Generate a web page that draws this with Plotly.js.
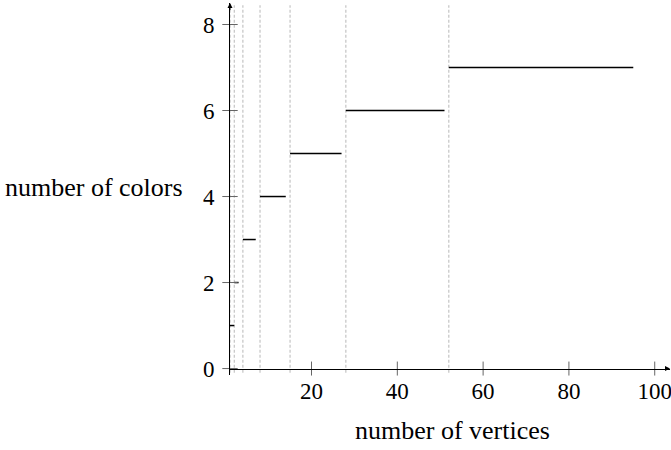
<!DOCTYPE html>
<html>
<head>
<meta charset="utf-8">
<script src="https://cdn.plot.ly/plotly-3.0.1.min.js"></script>
<style>html,body{margin:0;padding:0;background:#fff;}#chart{width:671px;height:450px;}</style>
</head>
<body>
<div id="chart"></div>
<script>
// ---- data ----
const colorCounts = [1, 2, 3, 4, 5, 6, 7];
const segStart = [1, 2, 4, 8, 15, 28, 52];
const segEnd = [2, 3, 7, 14, 27, 51, 95];
const thresholds = [1, 2, 4, 8, 15, 28, 52];
const xTickVals = [20, 40, 60, 80, 100];
const yTickVals = [0, 2, 4, 6, 8];
const xTitle = 'number of vertices';
const yTitle = 'number of colors';

// ---- styling ----
const FONT = 'Liberation Serif, Times New Roman, serif';
const X_RANGE = [1, 103.56];
const Y_RANGE = [-0.15, 8.5];
const GUIDE_Y = [-0.1, 8.45];

const traces = [];

// dashed guide lines
const gx = [], gy = [];
thresholds.forEach(t => { gx.push(t, t, null); gy.push(GUIDE_Y[0], GUIDE_Y[1], null); });
traces.push({x: gx, y: gy, mode: 'lines', line: {color: '#c4c4c4', width: 1.2, dash: '3px,2px'}, hoverinfo: 'skip', cliponaxis: false});

// step segments
const sx = [], sy = [];
colorCounts.forEach((c, i) => { sx.push(segStart[i], segEnd[i], null); sy.push(c, c, null); });
traces.push({x: sx, y: sy, mode: 'lines', line: {color: '#000', width: 1.5}, hoverinfo: 'skip'});

// tick marks crossing axes
traces.push({x: xTickVals, y: xTickVals.map(() => 0), mode: 'markers', cliponaxis: false,
  marker: {symbol: 'line-ns', size: 10, line: {width: 1, color: '#666'}}, hoverinfo: 'skip'});
traces.push({x: yTickVals.map(() => X_RANGE[0]), y: yTickVals, mode: 'markers', cliponaxis: false,
  marker: {symbol: 'line-ew', size: 11, line: {width: 1, color: '#666'}}, hoverinfo: 'skip'});

const layout = {
  width: 671, height: 450,
  margin: {l: 230, r: 1, t: 3, b: 75},
  paper_bgcolor: '#fff', plot_bgcolor: '#fff',
  showlegend: false, hovermode: false,
  font: {family: FONT, color: '#000', size: 23},
  xaxis: {
    range: X_RANGE, anchor: 'free', position: 0.15 / 8.65,
    showline: true, linecolor: '#000', linewidth: 1,
    showgrid: false, zeroline: false, ticks: '',
    tickvals: xTickVals, tickfont: {family: FONT, size: 23, color: '#000'},
    ticklabelstandoff: 2, ticklabeloverflow: 'allow'
  },
  yaxis: {
    range: Y_RANGE, showline: true, linecolor: '#000', linewidth: 1,
    showgrid: false, zeroline: false, ticks: '',
    tickvals: yTickVals, tickfont: {family: FONT, size: 23, color: '#000'},
    ticklabelstandoff: 10
  },
  annotations: [
    {text: yTitle, xref: 'paper', x: 0, xanchor: 'right', xshift: -45,
     yref: 'y', y: 4.22, yanchor: 'middle', showarrow: false,
     font: {family: FONT, size: 26, color: '#000'}},
    {text: xTitle, xref: 'x', x: 52.75, xanchor: 'center',
     yref: 'paper', y: -0.15, yanchor: 'middle', showarrow: false,
     font: {family: FONT, size: 26, color: '#000'}},
    {text: '', x: X_RANGE[1], y: 0, ax: X_RANGE[1] - 1.5, ay: 0, xref: 'x', yref: 'y', axref: 'x', ayref: 'y',
     showarrow: true, arrowhead: 2, arrowsize: 1, arrowwidth: 1, arrowcolor: '#000', standoff: 0},
    {text: '', x: X_RANGE[0], y: Y_RANGE[1], ax: X_RANGE[0], ay: Y_RANGE[1] - 0.2, xref: 'x', yref: 'y', axref: 'x', ayref: 'y',
     showarrow: true, arrowhead: 2, arrowsize: 1, arrowwidth: 1, arrowcolor: '#000', standoff: 0}
  ]
};

Plotly.newPlot('chart', traces, layout, {staticPlot: true, displayModeBar: false});
</script>
</body>
</html>
